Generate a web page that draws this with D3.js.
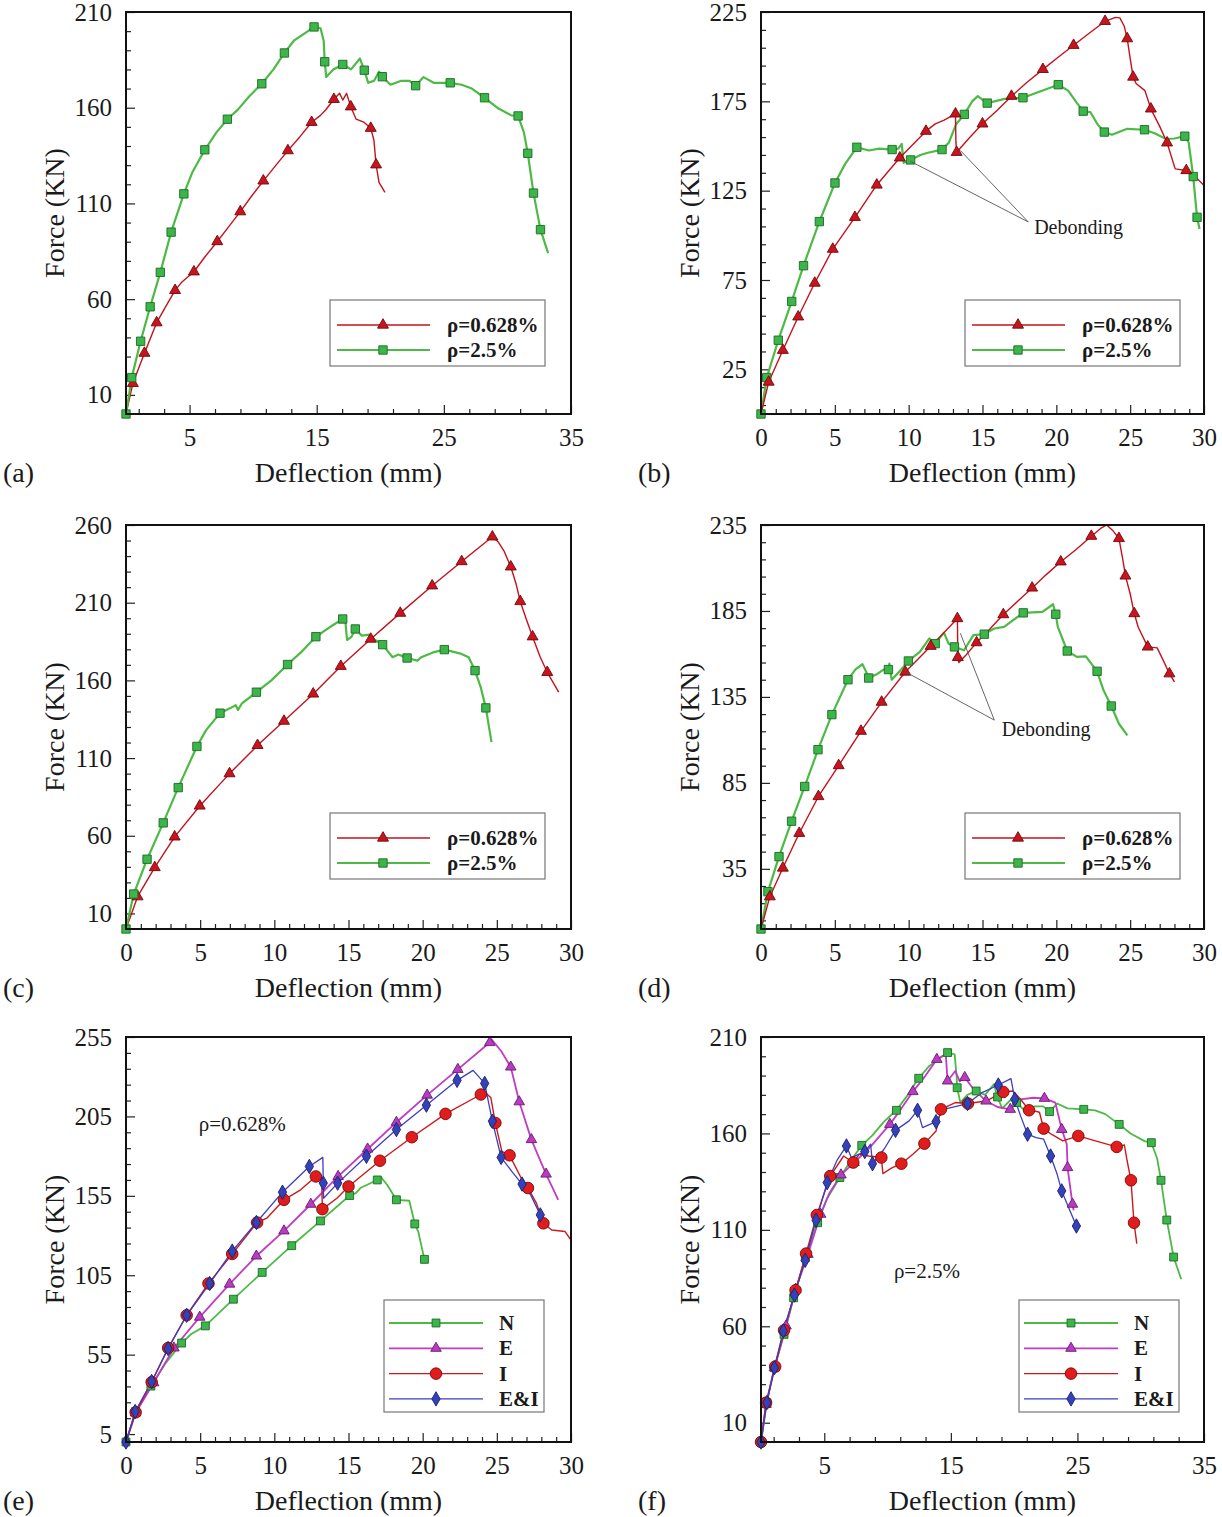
<!DOCTYPE html>
<html><head><meta charset="utf-8">
<script src="https://cdn.jsdelivr.net/npm/d3@7"></script>
<style>body{margin:0;background:#fff}svg{display:block}</style>
</head><body>
<svg id="chart" width="1222" height="1517"></svg>
<script>
// ---------- DATA: [deflection mm, force kN, marker flag] ----------
const aRed = [[0,0,0],[0.54,16,1],[1.45,31.8,1],[2.41,47.7,1],[3.2,57,0],[3.86,64.6,1],[4.4,69,0],[5.34,74.3,1],[6.2,82,0],[7.18,90.1,1],[8.1,98,0],[8.99,105.7,1],[9.9,114,0],[10.8,121.8,1],[11.8,130,0],[12.73,137.6,1],[13.7,145,0],[14.6,152.4,1],[15.3,156,0],[15.7,158.8,0],[16.35,164.4,1],[16.8,167.5,0],[17.05,164,0],[17.35,167.5,0],[17.68,160.5,1],[18.1,154,0],[18.7,152.5,0],[19.25,149.3,1],[19.5,143,0],[19.67,130.2,1],[19.9,121,0],[20.37,115.8,0]];
const aGreen = [[0,0,1],[0.45,19,1],[1.15,38,1],[1.9,56,1],[2.7,74,1],[3.55,95,1],[4.55,115,1],[5.2,126,0],[6.2,138,1],[7.1,147,0],[7.97,154,1],[8.8,159,0],[9.7,166,0],[10.68,172.5,1],[11.6,180,0],[12.46,188.6,1],[13.2,195,0],[14.2,199.5,0],[14.79,202.2,1],[15.3,201.5,0],[15.55,195,0],[15.63,184,1],[15.75,176,0],[16.3,180,0],[17.05,182.6,1],[17.7,180,0],[18.4,185.7,0],[18.74,179.6,1],[19.05,173,0],[19.5,174,0],[19.9,178.8,0],[20.16,176.2,1],[20.8,172,0],[21.6,174,0],[22.3,174,0],[22.78,171.5,1],[23.4,176,0],[24.2,173,0],[25.5,173,1],[26.4,172,0],[27.2,170,0],[28.2,165.2,1],[29.2,160,0],[30.3,156,0],[30.84,155.7,1],[31.3,147,0],[31.6,136.2,1],[32.05,115.4,1],[32.6,96.3,1],[33.2,84,0]];

const bRed = [[0,0,0],[0.52,17.9,1],[1.48,35.7,1],[2.52,54.4,1],[3.64,73.3,1],[4.86,92.3,1],[6.36,110.1,1],[7.84,128.2,1],[9.4,143.4,1],[10.3,151,0],[11.17,158.3,1],[11.8,162.4,0],[12.4,164.5,0],[13.17,168,1],[13.2,152,0],[13.25,146.5,1],[14.1,154.5,0],[15.0,162.4,1],[16.0,170,0],[16.96,177.9,1],[18,185.5,0],[19.09,192.9,1],[20.1,199.5,0],[21.17,206.4,1],[22.2,213,0],[23.3,219.8,1],[24.0,222,0],[24.3,221.7,0],[24.6,217,0],[24.8,210.1,1],[25.0,199,0],[25.2,188.6,1],[25.4,185,0],[26.0,181,0],[26.4,170.8,1],[27.0,161,0],[27.5,151.8,1],[28.05,137.2,0],[28.8,136.3,1],[29.4,133,0],[30,127.9,0]];
const bGreen = [[0,0,1],[0.39,20.4,1],[1.17,41.3,1],[2.08,63,1],[2.88,83,1],[3.95,107.7,1],[5.01,129.3,1],[5.7,140,0],[6.49,149.3,1],[7.3,147.5,0],[8.0,148.5,0],[8.88,148,1],[9.3,148.5,0],[9.53,151.2,0],[9.66,140.6,0],[10.13,142.2,1],[10.8,145,0],[11.3,146.2,0],[12.26,148,1],[12.73,152,0],[13.2,162,0],[13.77,167.7,1],[14.3,175,0],[14.68,177.9,0],[15.0,176,0],[15.32,174,1],[16.5,176.4,0],[17.74,177,1],[18.8,180.2,0],[20.13,184.3,1],[20.8,181,0],[21.4,174,0],[21.82,169.5,1],[22.3,169,0],[22.8,162,0],[23.25,157.8,1],[23.77,156.3,0],[24.8,159.6,0],[25.97,159.1,1],[26.7,157,0],[27.4,154,0],[28.0,154.2,0],[28.7,155.5,1],[28.96,152.1,0],[29.27,132.9,1],[29.53,110.1,1],[29.7,103.6,0]];

const cRed = [[0,0,0],[0.78,20.8,1],[1.94,39.6,1],[3.28,59.3,1],[4.97,79.2,1],[6.98,100,1],[8.87,118.2,1],[10.65,133.8,1],[12.62,151.3,1],[14.48,169.1,1],[16.5,186.6,1],[18.49,203.3,1],[20.64,220.9,1],[22.63,236.5,1],[24.7,252.4,1],[25.1,249,0],[25.5,243,0],[25.94,233.1,1],[26.3,222,0],[26.58,210.8,1],[27.0,199,0],[27.41,188.1,1],[27.93,174.9,0],[28.4,165.2,1],[29.17,152.4,0]];
const cGreen = [[0,0,1],[0.52,22.5,1],[1.42,44.9,1],[2.51,68.3,1],[3.52,91,1],[4.78,117.5,1],[5.4,128,0],[6.34,138.9,1],[7.0,142,0],[7.4,144,0],[7.55,141,0],[7.8,145,0],[8.79,152.4,1],[9.8,160,0],[10.89,170.2,1],[11.9,179,0],[12.8,188.1,1],[13.7,194,0],[14.61,199.5,1],[14.8,197,0],[14.9,186,0],[15.2,188,0],[15.46,193.1,1],[15.9,188.8,0],[16.4,189.4,0],[16.8,186,0],[17.3,183,1],[17.97,174.9,0],[18.36,176.6,0],[18.95,174.4,1],[19.65,172.7,0],[19.9,174.9,0],[20.7,178,0],[21.46,179.8,1],[22.5,177.4,0],[23.1,174.9,0],[23.53,166.3,1],[23.9,156,0],[24.26,142.3,1],[24.64,120.3,0]];

const dRed = [[0,0,0],[0.6,18.8,1],[1.48,35.5,1],[2.59,55.7,1],[3.89,77.1,1],[5.26,95.1,1],[6.77,115.1,1],[8.17,132,1],[9.77,149.5,1],[11.49,164.5,1],[12.4,172.5,0],[13.3,180.6,1],[13.32,165,0],[13.33,158,1],[13.4,155,0],[13.87,159.2,0],[14.6,166.6,1],[15.5,174.5,0],[16.41,182.9,1],[17.4,190.8,0],[18.36,198.4,1],[19.3,206,0],[20.3,213.6,1],[21.3,220.5,0],[22.37,228.5,1],[23.0,233,0],[23.41,235,0],[23.8,232,0],[24.24,227.2,1],[24.5,215,0],[24.68,205.4,1],[25.0,195,0],[25.28,183.5,1],[25.54,175.7,0],[26.19,164.1,1],[26.83,163.5,0],[27.2,157,0],[27.66,148.5,1],[28.0,143.7,0]];
const dGreen = [[0,0,1],[0.47,21.7,1],[1.22,42.1,1],[2.07,62.7,1],[2.96,82.9,1],[3.86,104.3,1],[4.8,124.7,1],[5.89,145,1],[6.4,151,0],[6.87,154,0],[7.1,150,0],[7.29,146,1],[7.8,148,0],[8.3,150.9,0],[8.63,150.9,1],[8.69,154.4,0],[8.85,145,0],[9.4,150,0],[9.98,155.9,1],[10.76,161.2,0],[11.4,169,0],[11.8,166,1],[12.39,172.4,0],[12.7,166,0],[13.1,164.1,1],[13.74,162.1,0],[14.39,170.9,0],[15.12,171.5,1],[15.8,174.8,0],[16.46,175.7,0],[17.76,183.9,1],[19.06,184.5,0],[19.78,188.9,0],[19.96,183.1,1],[20.1,175.7,0],[20.74,161.7,1],[21.39,158.3,0],[22.0,158.6,0],[22.76,149.9,1],[23.2,138.8,0],[23.72,129.7,1],[24.24,119.4,0],[24.81,112.6,0]];

const eN = [[0,0,1],[0.65,19.2,1],[1.68,35.2,1],[2.7,50,0],[3.75,62.3,1],[4.4,68,0],[5.35,73.1,1],[7.24,89.9,1],[9.18,106.8,1],[11.17,123.6,1],[13.11,139.2,1],[15.08,155.2,1],[15.5,156.7,0],[15.8,159.9,0],[16.94,165,1],[17.2,166.6,0],[17.6,162,0],[18.23,152.5,1],[19.1,151.9,0],[19.47,137.3,1],[19.7,132.5,0],[20.12,115,1]];
const eE = [[0,0,0],[0.65,18.3,1],[1.86,37.3,1],[3.23,59.2,1],[4.97,78.6,1],[6.98,99.4,1],[8.79,117.1,1],[10.65,132.9,1],[12.46,149.7,1],[14.3,167.2,1],[16.29,184.5,1],[18.23,201.3,1],[20.3,218.4,1],[22.37,234.6,1],[24.52,251.5,1],[24.64,253.6,0],[25.3,246,0],[25.94,236.1,1],[26.51,214.2,1],[27.33,190.4,1],[27.8,180,0],[28.32,168.7,1],[29.14,152.5,0]];
const eI = [[0,0,0],[0.65,18.7,1],[1.73,37.7,1],[2.84,59.2,1],[4.09,79.8,1],[5.56,99.8,1],[7.16,118.4,1],[8.84,138.2,1],[9.49,140.9,0],[10.65,152.5,1],[11.77,158.8,0],[12.8,167.2,1],[13.19,166.2,0],[13.24,146.6,1],[14.22,153.5,0],[15.0,160.9,1],[17.12,177.1,1],[19.27,191.9,1],[21.54,206.6,1],[23.92,218.8,1],[24.31,219.3,0],[24.6,216.7,0],[24.9,200.9,1],[25.34,183,0],[25.86,180.5,1],[26.64,166.2,0],[27.1,159.9,1],[27.67,150.4,0],[28.14,137.7,1],[28.7,133.5,0],[29.6,132.5,0],[30,127.2,0]];
const eEI = [[0,0,1],[0.62,19.2,1],[1.73,38.1,1],[2.84,58.8,1],[4.09,79.8,1],[5.64,99.8,1],[7.16,120.2,1],[8.79,138.2,1],[10.55,157.3,1],[12.36,173.5,1],[13.27,179.2,0],[13.3,163,1],[13.32,153.5,0],[14.27,163,1],[16.21,179.9,1],[18.23,196.7,1],[20.25,212.1,1],[22.32,227.7,1],[23.4,234,0],[24.18,225.8,1],[24.7,202,1],[25.29,179.2,1],[26.1,169.3,0],[26.7,162.4,1],[27.28,155.6,0],[27.93,143,1],[28.5,136,0]];

const fN = [[0,0,1],[0.46,20.4,1],[1.06,38.5,1],[1.82,55.8,1],[2.58,74.8,1],[3.5,95.6,1],[4.47,113.7,1],[5.2,126,0],[6.23,137.1,1],[7.1,146,0],[7.96,153.8,1],[8.8,159,0],[9.7,166,0],[10.7,172,1],[11.6,180,0],[12.46,188.6,1],[13.3,195,0],[14.2,199.5,0],[14.74,201.9,1],[15.3,201,0],[15.45,190,0],[15.5,183.7,1],[15.75,176,0],[16.3,180,0],[17,182,1],[17.7,180,0],[18.4,185.5,0],[18.69,178.9,1],[19.05,173,0],[19.9,178.5,0],[20.2,176,1],[20.8,172,0],[21.6,174,0],[22.3,174,0],[22.8,171.3,1],[23.4,175.5,0],[24.2,173,0],[25.5,172.5,1],[26.4,172,0],[27.2,170,0],[28.3,164.7,1],[29.2,160,0],[30.3,156,0],[30.84,155.2,1],[31.3,147,0],[31.6,135.7,1],[32.06,115.1,1],[32.6,95.9,1],[33.2,84.4,0]];
const fE = [[0,0,0],[0.4,19.5,1],[1.06,38.5,1],[1.98,60.2,1],[2.73,79.2,1],[3.71,97.3,1],[4.71,118.1,1],[5.4,129,0],[6.32,138.5,1],[7.35,144.9,1],[8.5,152,0],[10.18,164.7,1],[11.1,173,0],[12,181.7,1],[13,190,0],[13.89,198.4,1],[14.6,201,0],[14.74,187.2,1],[15.35,192.4,0],[15.7,187,0],[16.1,189,1],[16.71,183.7,0],[17.78,176.8,1],[18.69,173.7,0],[19.69,172.5,1],[20.51,177.7,0],[21.5,178.5,0],[22.39,178.2,1],[23.25,176,0],[23.76,162.1,1],[24.16,154.4,0],[24.22,142.3,1],[24.61,123.3,1],[24.7,120.1,0]];
const fI = [[0,0,1],[0.4,20.4,1],[1.12,39.1,1],[1.82,57.9,1],[2.73,78.7,1],[3.56,97.7,1],[4.41,117.7,1],[5.47,137.9,1],[6.53,148.3,0],[7.29,144.9,1],[7.75,149.2,0],[8.51,148.3,0],[9.51,147.5,1],[9.63,139.2,0],[10.3,142,0],[11.09,144.3,1],[12,149.2,0],[12.91,154.7,1],[13.83,161.3,0],[14.22,172.5,1],[15.35,176,0],[16.35,175.5,1],[17.78,176.8,0],[19.14,181.5,1],[19.9,182,0],[20.51,177.7,0],[21.18,172,1],[21.57,171.7,0],[22.0,171,0],[22.33,162.5,1],[22.94,159.6,0],[23.85,156.1,0],[25.07,158.7,1],[26.28,156.4,0],[28.1,153,1],[28.71,154,0],[28.93,145.7,0],[29.23,135.7,1],[29.47,113.7,1],[29.69,102.9,0]];
const fEI = [[0,0,1],[0.46,20.4,1],[1.06,38.5,1],[1.76,57.6,1],[2.64,76.2,1],[3.49,94.2,1],[4.35,115,1],[5.23,134.5,1],[6.0,146,0],[6.75,153.5,1],[7.14,147.5,0],[8.2,150.6,1],[8.66,154.4,0],[8.81,144.3,1],[9.72,151.8,0],[10.63,161.6,1],[11.7,166.5,0],[12.37,172,1],[12.76,163,0],[13.83,166.1,1],[14.43,172.5,0],[16.32,175.5,1],[17.47,181.2,0],[18.75,185.1,1],[19.75,188.4,0],[20.05,177.7,1],[20.51,169.1,0],[21.06,159.6,1],[21.73,157.8,0],[22.33,157,0],[22.88,148.3,1],[23.4,138.8,0],[23.76,130.2,1],[24.31,121.5,0],[24.92,112,1]];

// ---------- TICKS / LABELS ----------
const xTicks35 = [5, 15, 25, 35];
const xTicks30 = [0, 5, 10, 15, 20, 25, 30];
const yTicksA = [10, 60, 110, 160, 210];
const yTicksB = [25, 75, 125, 175, 225];
const yTicksC = [10, 60, 110, 160, 210, 260];
const yTicksD = [35, 85, 135, 185, 235];
const yTicksE = [5, 55, 105, 155, 205, 255];
const yTicksF = [10, 60, 110, 160, 210];
const panelLabels = ["(a)", "(b)", "(c)", "(d)", "(e)", "(f)"];
const rhoNames = ["\u03c1=0.628%", "\u03c1=2.5%"];
const specNames = ["N", "E", "I", "E&I"];
const xTitle = "Deflection (mm)";
const yTitle = "Force (KN)";
const debondText = "Debonding";

// ---------- STYLE ----------
const FONT = "'Liberation Serif','Times New Roman',Times,serif";
const ST = {
  red:   {line:"#c4121c", fill:"#c8141e", stroke:"#6e0a0a", sym:d3.symbolTriangle, size:52, w:1.4},
  green: {line:"#4cba45", fill:"#3cb54a", stroke:"#1c6a22", sym:d3.symbolSquare, size:70, w:2.2},
  N:     {line:"#4cba45", fill:"#3cb54a", stroke:"#1c6a22", sym:d3.symbolSquare, size:62, w:1.8},
  E:     {line:"#c03cc4", fill:"#b83cc0", stroke:"#6a1a70", sym:d3.symbolTriangle, size:48, w:1.8},
  I:     {line:"#cc1a1a", fill:"#e01c1c", stroke:"#7a0808", sym:d3.symbolCircle, size:105, w:1.4},
  EI:    {line:"#3b3fc0", fill:"#3442b8", stroke:"#1a1f70", sym:d3.symbolDiamond, size:60, w:1.3}
};

const svg = d3.select("#chart");
const L = {x0:126, x1:571}, R = {x0:761, x1:1204};
const rows = [{y0:12, y1:414}, {y0:525, y1:929}, {y0:1037, y1:1442}];

const panels = [
  {col:L, row:rows[0], xd:[0,35], yd:[0,210], xt:xTicks35, yt:yTicksA, xm:2, ym:10, lab:panelLabels[0],
   series:[{d:aRed, s:ST.red, n:rhoNames[0]}, {d:aGreen, s:ST.green, n:rhoNames[1]}], leg:"rho"},
  {col:R, row:rows[0], xd:[0,30], yd:[0,225], xt:xTicks30, yt:yTicksB, xm:1, ym:10, lab:panelLabels[1],
   series:[{d:bGreen, s:ST.green, n:rhoNames[1]}, {d:bRed, s:ST.red, n:rhoNames[0]}], leg:"rho",
   note:{text:[18.5,100.5], from:[18.1,107.5], to:[[10.1,141.5],[13.5,147.5]]}},
  {col:L, row:rows[1], xd:[0,30], yd:[0,260], xt:xTicks30, yt:yTicksC, xm:1, ym:10, lab:panelLabels[2],
   series:[{d:cRed, s:ST.red, n:rhoNames[0]}, {d:cGreen, s:ST.green, n:rhoNames[1]}], leg:"rho"},
  {col:R, row:rows[1], xd:[0,30], yd:[0,235], xt:xTicks30, yt:yTicksD, xm:1, ym:10, lab:panelLabels[3],
   series:[{d:dGreen, s:ST.green, n:rhoNames[1]}, {d:dRed, s:ST.red, n:rhoNames[0]}], leg:"rho",
   note:{text:[16.3,112], from:[15.8,121.5], to:[[9.8,149.5],[13.5,172]]}},
  {col:L, row:rows[2], xd:[0,30], yd:[0,255], xt:xTicks30, yt:yTicksE, xm:1, ym:10, lab:panelLabels[4],
   series:[{d:eN, s:ST.N, n:specNames[0]}, {d:eE, s:ST.E, n:specNames[1]}, {d:eI, s:ST.I, n:specNames[2]}, {d:eEI, s:ST.EI, n:specNames[3]}],
   leg:"spec", tag:{text:rhoNames[0], at:[4.9,196]}},
  {col:R, row:rows[2], xd:[0,35], yd:[0,210], xt:xTicks35, yt:yTicksF, xm:2, ym:10, lab:panelLabels[5],
   series:[{d:fN, s:ST.N, n:specNames[0]}, {d:fE, s:ST.E, n:specNames[1]}, {d:fI, s:ST.I, n:specNames[2]}, {d:fEI, s:ST.EI, n:specNames[3]}],
   leg:"spec", tag:{text:rhoNames[1], at:[10.5,85]}}
];

function minors(major, step, dom) {
  const out = [], t0 = major[0];
  const kmin = Math.ceil((dom[0] - t0) / step - 1e-9), kmax = Math.floor((dom[1] - t0) / step + 1e-9);
  for (let k = kmin; k <= kmax; k++) {
    const v = +(t0 + k * step).toFixed(6);
    if (!major.some(m => Math.abs(m - v) < 1e-6)) out.push(v);
  }
  return out;
}

function drawMarker(g, s, x, y) {
  g.append("path").attr("d", d3.symbol().type(s.sym).size(s.size)())
    .attr("transform", `translate(${x},${y})`)
    .attr("fill", s.fill).attr("stroke", s.stroke).attr("stroke-width", 0.9);
}

panels.forEach((p, i) => {
  const {x0, x1} = p.col, {y0, y1} = p.row;
  const x = d3.scaleLinear().domain(p.xd).range([x0, x1]);
  const y = d3.scaleLinear().domain(p.yd).range([y1, y0]);
  const g = svg.append("g");
  const cid = "clip" + i;
  svg.append("clipPath").attr("id", cid).append("rect").attr("x", x0).attr("y", y0).attr("width", x1 - x0).attr("height", y1 - y0);

  // axes (ticks inward)
  const xa = d3.axisBottom(x).tickValues(p.xt).tickSize(-9).tickPadding(14).tickFormat(d3.format("d"));
  const xaMin = d3.axisBottom(x).tickValues(minors(p.xt, p.xm, p.xd)).tickSize(-5).tickFormat("");
  const ya = d3.axisLeft(y).tickValues(p.yt).tickSize(-9).tickPadding(14).tickFormat(d3.format("d"));
  const yaMin = d3.axisLeft(y).tickValues(minors(p.yt, p.ym, p.yd)).tickSize(-5).tickFormat("");
  [[xa, "x"], [xaMin, "x"], [ya, "y"], [yaMin, "y"]].forEach(([ax, t]) => {
    const ag = g.append("g").attr("transform", t === "x" ? `translate(0,${y1})` : `translate(${x0},0)`).call(ax);
    ag.select(".domain").remove();
    ag.selectAll(".tick line").attr("stroke", "#222").attr("stroke-width", 1.2);
    ag.selectAll(".tick text").attr("font-family", FONT).attr("font-size", 25).attr("fill", "#1a1a1a");
  });

  // series
  const line = d3.line().x(d => x(d[0])).y(d => y(d[1]));
  const sg = g.append("g").attr("clip-path", `url(#${cid})`);
  p.series.forEach(se => {
    sg.append("path").datum(se.d).attr("d", line).attr("fill", "none")
      .attr("stroke", se.s.line).attr("stroke-width", se.s.w).attr("stroke-linejoin", "round");
  });
  p.series.forEach(se => {
    se.d.filter(d => d[2]).forEach(d => drawMarker(g, se.s, x(d[0]), y(d[1])));
  });

  // frame
  g.append("rect").attr("x", x0).attr("y", y0).attr("width", x1 - x0).attr("height", y1 - y0)
    .attr("fill", "none").attr("stroke", "#111").attr("stroke-width", 2);

  // titles
  g.append("text").attr("x", (x0 + x1) / 2).attr("y", y1 + 68).attr("text-anchor", "middle")
    .attr("font-family", FONT).attr("font-size", 28).attr("fill", "#1a1a1a").text(xTitle);
  g.append("text").attr("transform", `translate(${x0 - 62},${(y0 + y1) / 2}) rotate(-90)`).attr("text-anchor", "middle")
    .attr("font-family", FONT).attr("font-size", 28).attr("fill", "#1a1a1a").text(yTitle);
  g.append("text").attr("x", x0 - 123).attr("y", y1 + 68)
    .attr("font-family", FONT).attr("font-size", 28).attr("fill", "#1a1a1a").text(p.lab);

  // legend
  if (p.leg === "rho") {
    const bx = x0 + 204, by = y0 + 288;
    g.append("rect").attr("x", bx).attr("y", by).attr("width", 215).attr("height", 66)
      .attr("fill", "#fff").attr("stroke", "#777").attr("stroke-width", 1.2);
    [ST.red, ST.green].forEach((s, k) => {
      const ly = by + 25 + k * 25;
      g.append("line").attr("x1", bx + 7).attr("x2", bx + 100).attr("y1", ly).attr("y2", ly)
        .attr("stroke", s.line).attr("stroke-width", s.w);
      drawMarker(g, s, bx + 53, ly);
      g.append("text").attr("x", bx + 117).attr("y", ly + 7).attr("font-family", FONT).attr("font-weight", "bold")
        .attr("font-size", 21).attr("fill", "#1a1a1a").text(rhoNames[k]);
    });
  } else {
    const bx = x0 + 258, by = y0 + 263;
    g.append("rect").attr("x", bx).attr("y", by).attr("width", 160).attr("height", 112)
      .attr("fill", "#fff").attr("stroke", "#777").attr("stroke-width", 1.2);
    p.series.forEach((se, k) => {
      const ly = by + 23 + k * 25.3;
      g.append("line").attr("x1", bx + 5).attr("x2", bx + 99).attr("y1", ly).attr("y2", ly)
        .attr("stroke", se.s.line).attr("stroke-width", se.s.w);
      drawMarker(g, se.s, bx + 52, ly);
      g.append("text").attr("x", bx + 115).attr("y", ly + 7).attr("font-family", FONT).attr("font-weight", "bold")
        .attr("font-size", 21).attr("fill", "#1a1a1a").text(se.n);
    });
  }

  if (p.note) {
    p.note.to.forEach(t => {
      g.append("line").attr("x1", x(p.note.from[0])).attr("y1", y(p.note.from[1]))
        .attr("x2", x(t[0])).attr("y2", y(t[1])).attr("stroke", "#555").attr("stroke-width", 0.9);
    });
    g.append("text").attr("x", x(p.note.text[0])).attr("y", y(p.note.text[1]))
      .attr("font-family", FONT).attr("font-size", 20).attr("fill", "#1a1a1a").text(debondText);
  }
  if (p.tag) {
    g.append("text").attr("x", x(p.tag.at[0])).attr("y", y(p.tag.at[1]))
      .attr("font-family", FONT).attr("font-size", 21).attr("fill", "#1a1a1a").text(p.tag.text);
  }
});
</script>
</body></html>
